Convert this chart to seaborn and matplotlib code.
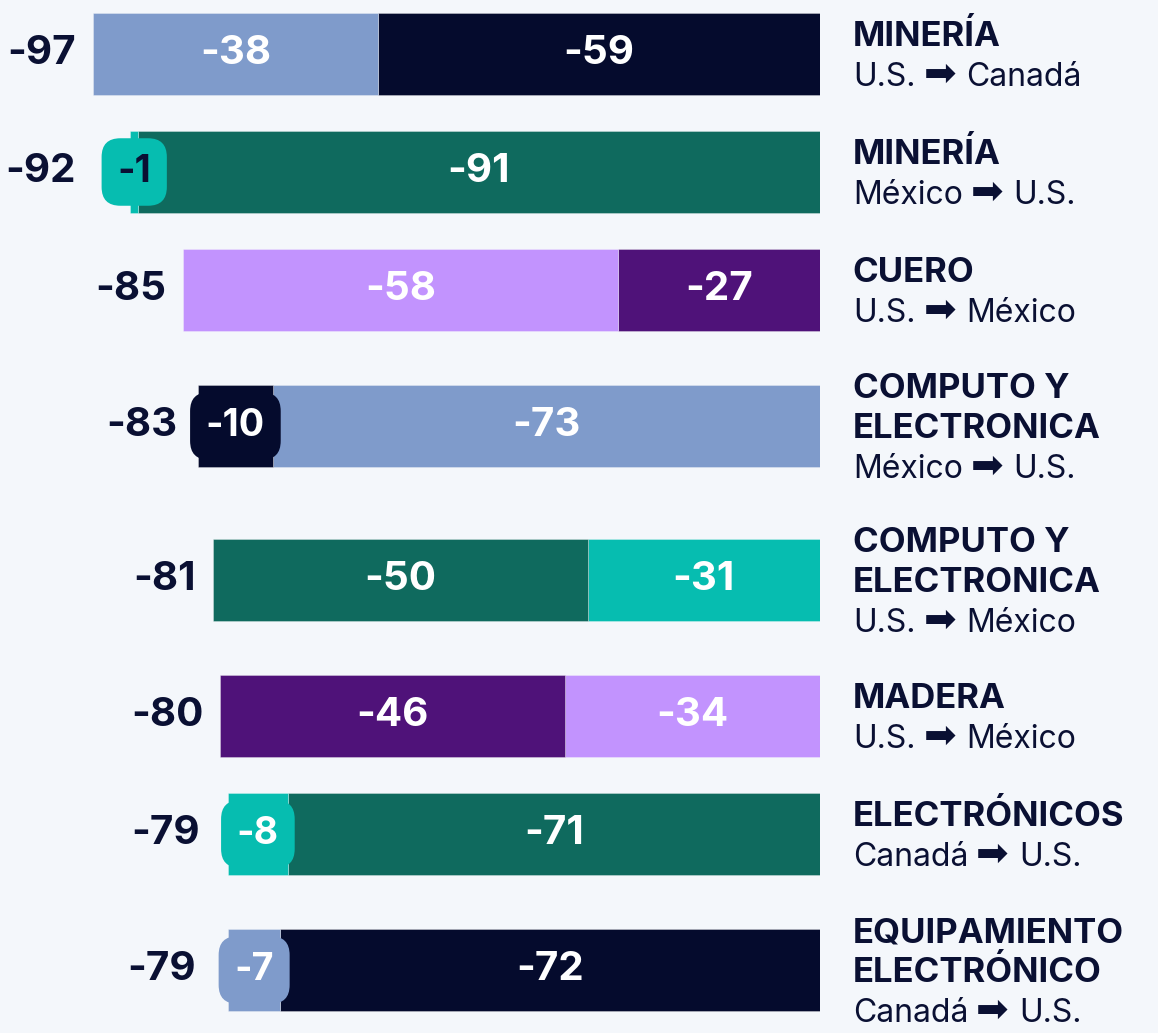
"""Stacked horizontal bars: sector trade changes between U.S., México and Canadá."""

import matplotlib.pyplot as plt
import seaborn as sns

# data
sectors = ["MINERÍA", "MINERÍA", "CUERO", "COMPUTO Y\nELECTRONICA",
           "COMPUTO Y\nELECTRONICA", "MADERA", "ELECTRÓNICOS",
           "EQUIPAMIENTO\nELECTRÓNICO"]
origins = ["U.S.", "México", "U.S.", "México", "U.S.", "U.S.", "Canadá", "Canadá"]
destinations = ["Canadá", "U.S.", "México", "U.S.", "México", "México", "U.S.", "U.S."]
left_vals = [-38, -1, -58, -10, -50, -46, -8, -7]
right_vals = [-59, -91, -27, -73, -31, -34, -71, -72]

# colours
BG = "#f4f7fb"
INK = "#0a1033"
LIGHT_BLUE = "#7f9bcb"
NAVY = "#050b2d"
DARK_TEAL = "#0f6a5e"
TEAL = "#06bdb0"
LILAC = "#c293fe"
PURPLE = "#4f1279"
left_colors = [LIGHT_BLUE, TEAL, LILAC, NAVY, DARK_TEAL, PURPLE, TEAL, LIGHT_BLUE]
right_colors = [NAVY, DARK_TEAL, PURPLE, LIGHT_BLUE, TEAL, LILAC, DARK_TEAL, NAVY]

sns.set_theme(style="white", rc={"figure.facecolor": BG, "axes.facecolor": BG})
plt.rcParams["font.family"] = ["Inter", "DejaVu Sans"]

W, H = 1158, 1033
ZERO_PX = 820          # pixel where the bars end on the right
PX_PER_UNIT = 727 / 97

fig = plt.figure(figsize=(W / 100, H / 100), dpi=100)
ax = fig.add_axes([0, 0, ZERO_PX / W, 1])
ax.set_xlim(-ZERO_PX / PX_PER_UNIT, 0)
ax.set_ylim(H, 0)
ax.axis("off")

# row layout in pixels, taller rows for three-line labels
n_lines = [s.count("\n") + 2 for s in sectors]
row_h = {2: 118, 3: 154}
centers = [54]
for i in range(1, len(sectors)):
    centers.append(centers[-1] + (row_h[n_lines[i - 1]] + row_h[n_lines[i]]) / 2)

BAR_H = 82
LINE = 40
totals = [l + r for l, r in zip(left_vals, right_vals)]

for i, y in enumerate(centers):
    lv, rv = left_vals[i], right_vals[i]
    ax.barh(y, rv, left=0, height=BAR_H, color=right_colors[i],
            edgecolor=(1, 1, 1, 0.35), linewidth=0.6)
    ax.barh(y, lv, left=rv, height=BAR_H, color=left_colors[i],
            edgecolor=(1, 1, 1, 0.35), linewidth=0.6)

    # segment labels
    ax.text(rv / 2, y, f"{rv}", ha="center", va="center", color="white",
            fontsize=29, fontweight="bold")
    lx = rv + lv / 2
    small = abs(lv) <= 10
    if small:
        tcol = INK if abs(lv) <= 1 else "white"
        ax.text(lx, y, f"{lv}", ha="center", va="center", color=tcol,
                fontsize=27, fontweight="bold", zorder=5,
                bbox=dict(boxstyle="round,pad=0.42,rounding_size=0.5",
                          fc=left_colors[i], ec="none"))
        ax.annotate(f"{totals[i]}", xy=(lx, y), xytext=(-58, 0),
                    textcoords="offset pixels", ha="right", va="center",
                    color=INK, fontsize=29, fontweight="bold")
    else:
        ax.text(lx, y, f"{lv}", ha="center", va="center", color="white",
                fontsize=29, fontweight="bold")
        ax.annotate(f"{totals[i]}", xy=(totals[i], y), xytext=(-17, 0),
                    textcoords="offset pixels", ha="right", va="center",
                    color=INK, fontsize=29, fontweight="bold")

    # right-hand labels
    lines = sectors[i].split("\n")
    n = len(lines) + 1
    for k, txt in enumerate(lines):
        ly = y + (k - (n - 1) / 2) * LINE + 12
        ax.text(1.04, ly, txt, transform=ax.get_yaxis_transform(),
                ha="left", va="baseline", color=INK, fontsize=25,
                fontweight="bold", clip_on=False)
    ly = y + ((n - 1) - (n - 1) / 2) * LINE + 12
    t1 = ax.text(1.04, ly, origins[i], transform=ax.get_yaxis_transform(),
                 ha="left", va="baseline", color=INK, fontsize=23,
                 clip_on=False)
    t2 = ax.annotate("➡", xy=(1, 0), xycoords=t1, xytext=(8, -1),
                     textcoords="offset pixels", ha="left", va="bottom",
                     color=INK, fontsize=28, family="DejaVu Sans",
                     annotation_clip=False)
    ax.annotate(destinations[i], xy=(1, 0), xycoords=t2, xytext=(10, 1),
                textcoords="offset pixels", ha="left", va="bottom",
                color=INK, fontsize=23, annotation_clip=False)

fig.savefig("out.png", dpi=100, facecolor=BG)
